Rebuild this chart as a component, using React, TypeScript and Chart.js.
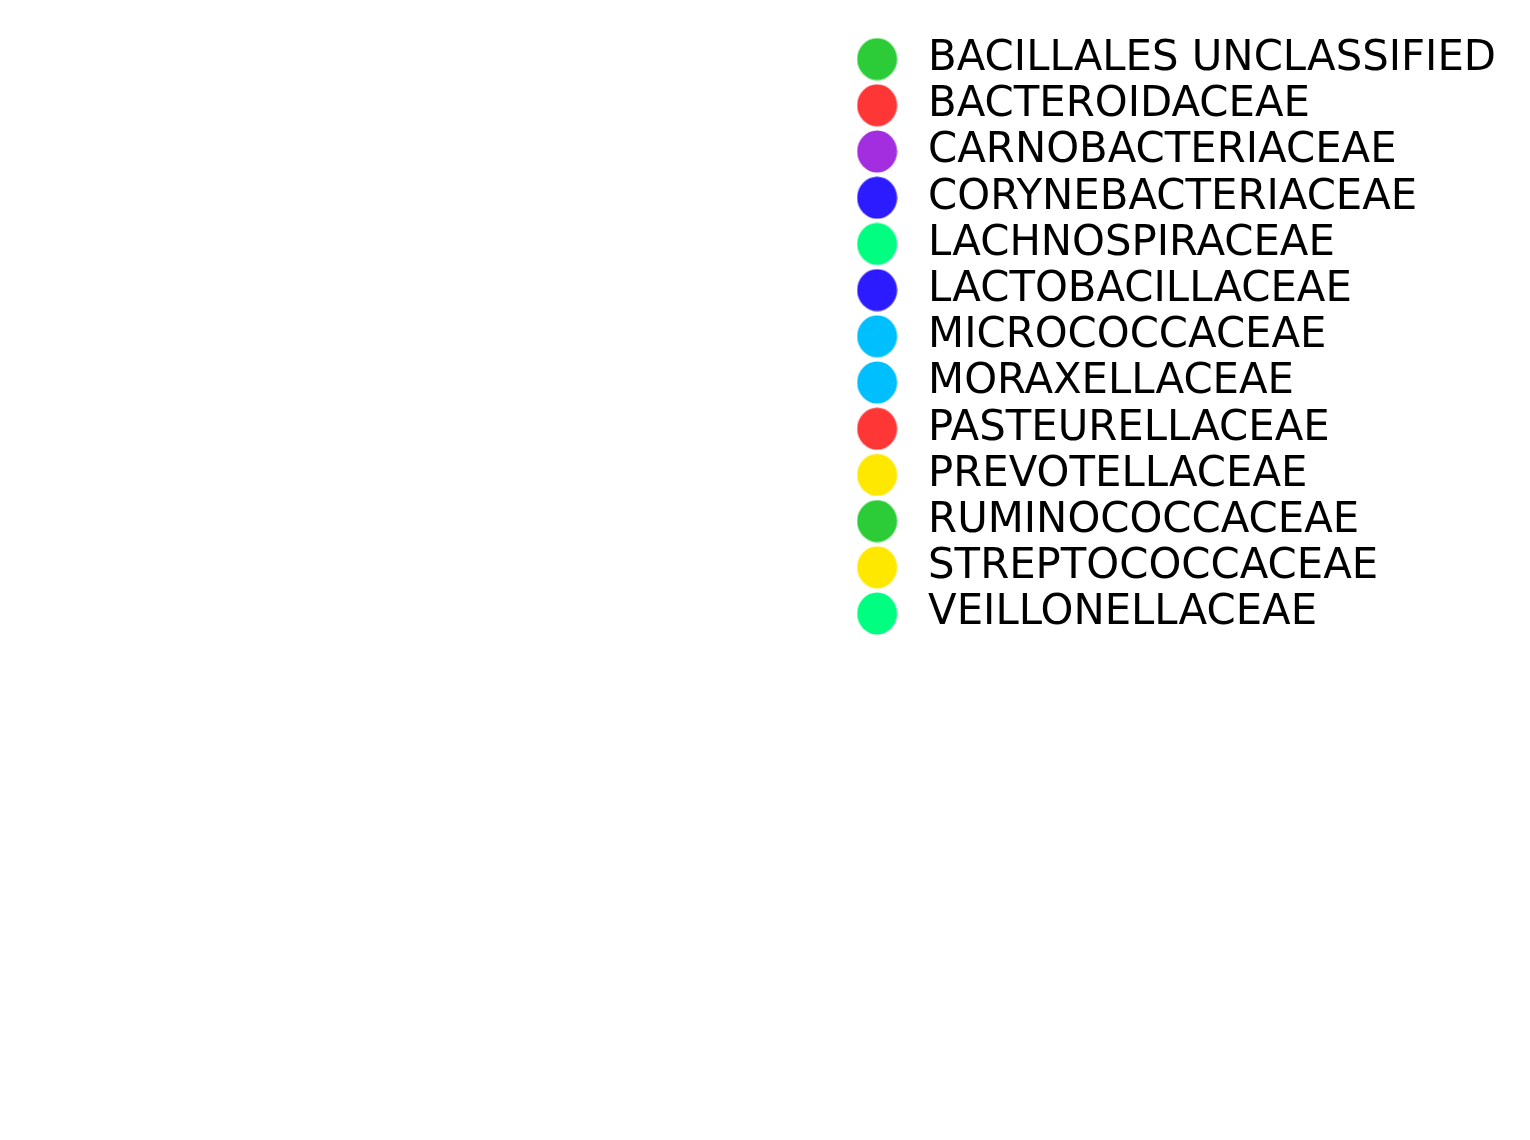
import React, { useEffect, useRef } from "react";
import { Chart, registerables } from "chart.js";

Chart.register(...registerables);

// Families shown in the legend (no visible marks in the plot area)
const families: string[] = [
  "BACILLALES UNCLASSIFIED",
  "BACTEROIDACEAE",
  "CARNOBACTERIACEAE",
  "CORYNEBACTERIACEAE",
  "LACHNOSPIRACEAE",
  "LACTOBACILLACEAE",
  "MICROCOCCACEAE",
  "MORAXELLACEAE",
  "PASTEURELLACEAE",
  "PREVOTELLACEAE",
  "RUMINOCOCCACEAE",
  "STREPTOCOCCACEAE",
  "VEILLONELLACEAE",
];

const familyColors: string[] = [
  "#2bcc37",
  "#ff3636",
  "#a22ee0",
  "#2c1bff",
  "#00ff80",
  "#2c1bff",
  "#00bfff",
  "#00bfff",
  "#ff3636",
  "#ffe800",
  "#2bcc37",
  "#ffe800",
  "#00ff80",
];

// Each family's points: the reference plot area shows no points
const familyPoints: { x: number; y: number }[][] = families.map(() => []);

function makeDot(color: string): HTMLCanvasElement {
  const c = document.createElement("canvas");
  c.width = 41;
  c.height = 43;
  const ctx = c.getContext("2d")!;
  ctx.fillStyle = color;
  ctx.beginPath();
  ctx.ellipse(20.5, 21.5, 20, 21, 0, 0, Math.PI * 2);
  ctx.fill();
  return c;
}

export default function App() {
  const canvasRef = useRef<HTMLCanvasElement | null>(null);

  useEffect(() => {
    if (!canvasRef.current) return;
    const dots = familyColors.map(makeDot);
    const chart = new Chart(canvasRef.current, {
      type: "scatter",
      data: {
        datasets: families.map((name, i) => ({
          label: name,
          data: familyPoints[i],
          backgroundColor: familyColors[i],
          borderColor: familyColors[i],
          pointStyle: dots[i] as any,
        })),
      },
      options: {
        animation: false,
        responsive: true,
        maintainAspectRatio: false,
        layout: { padding: { top: 33.8, right: 24, left: 0, bottom: 0 } },
        scales: {
          x: { display: false },
          y: { display: false },
        },
        plugins: {
          tooltip: { enabled: false },
          legend: {
            position: "right",
            align: "start",
            labels: {
              usePointStyle: true,
              pointStyleWidth: 60.2,
              boxHeight: 41.8,
              padding: 4.4,
              color: "#000000",
              font: { family: "'DejaVu Sans', sans-serif", size: 41.8 },
              generateLabels: (ch: any) =>
                ch.data.datasets.map((ds: any, i: number) => ({
                  text: ds.label,
                  fillStyle: ds.backgroundColor,
                  strokeStyle: ds.backgroundColor,
                  lineWidth: 0,
                  pointStyle: dots[i],
                  hidden: false,
                  datasetIndex: i,
                  fontColor: "#000000",
                })),
            },
          },
        },
      },
    });
    return () => chart.destroy();
  }, []);

  return (
    <div style={{ position: "absolute", left: 0, top: 0, width: 1530, height: 1140, background: "#ffffff" }}>
      <canvas ref={canvasRef} />
    </div>
  );
}
